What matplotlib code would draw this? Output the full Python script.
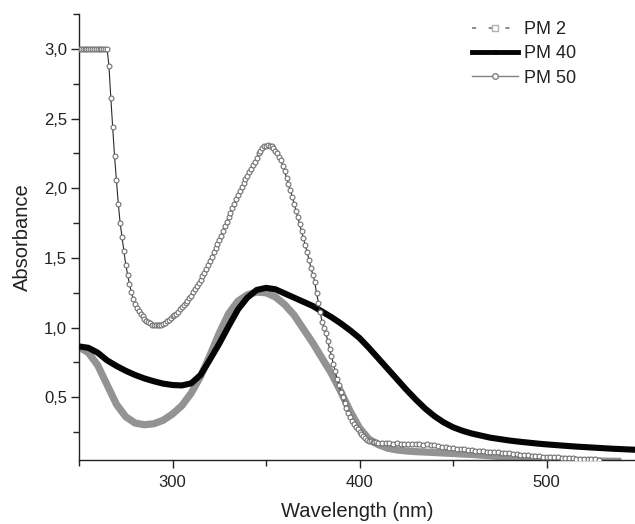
import numpy as np
import matplotlib
matplotlib.use("Agg")
import matplotlib.pyplot as plt
from matplotlib.lines import Line2D
from matplotlib.ticker import FuncFormatter, MultipleLocator

plt.rcParams['font.family'] = ['Liberation Sans', 'DejaVu Sans']

# ---------------- data ----------------
# PM 2 (grey band), every 5 nm
wl_pm2 = np.arange(250, 541, 5)
abs_pm2 = [0.86, 0.82, 0.73, 0.59, 0.45, 0.36, 0.315, 0.303, 0.31, 0.335,
           0.38, 0.44, 0.53, 0.65, 0.80, 0.96, 1.10, 1.19, 1.235, 1.255,
           1.25, 1.22, 1.165, 1.09, 0.99, 0.89, 0.78, 0.67, 0.54, 0.40,
           0.28, 0.20, 0.16, 0.135, 0.122, 0.115, 0.11, 0.107, 0.104, 0.10,
           0.097, 0.093, 0.09, 0.085, 0.08, 0.075, 0.07, 0.066, 0.062, 0.058,
           0.055, 0.052, 0.05, 0.047, 0.045, 0.043, 0.042, 0.041, 0.04]

# PM 40 (black), every 5 nm
wl_pm40 = np.arange(250, 551, 5)
abs_pm40 = [0.865, 0.855, 0.82, 0.765, 0.725, 0.69, 0.66, 0.635, 0.615, 0.598,
            0.588, 0.585, 0.60, 0.66, 0.77, 0.885, 1.01, 1.13, 1.215, 1.27,
            1.285, 1.275, 1.245, 1.215, 1.185, 1.155, 1.115, 1.075, 1.03, 0.98,
            0.925, 0.855, 0.78, 0.705, 0.63, 0.555, 0.485, 0.42, 0.365, 0.32,
            0.285, 0.26, 0.24, 0.225, 0.21, 0.20, 0.19, 0.182, 0.175, 0.168,
            0.162, 0.157, 0.152, 0.147, 0.143, 0.139, 0.135, 0.131, 0.128, 0.125,
            0.122]

# PM 50 (open circles): 1 nm steps 250-410, 2 nm steps 412-528
wl_pm50 = np.concatenate([np.arange(250, 411, 1), np.arange(412, 529, 2)])
abs_pm50 = [3.0] * 16 + [
    2.88, 2.65, 2.44, 2.23, 2.06, 1.89, 1.75, 1.65, 1.55, 1.45,
    1.38, 1.31, 1.255, 1.205, 1.17, 1.14, 1.12, 1.10, 1.08, 1.065,
    1.05, 1.04, 1.03, 1.022, 1.018,
    # 291-410
    1.017, 1.016, 1.018, 1.022, 1.028, 1.035, 1.045, 1.055, 1.067, 1.08,
    1.09, 1.10, 1.115, 1.13, 1.145, 1.16, 1.175, 1.19, 1.21, 1.23,
    1.255, 1.28, 1.30, 1.32, 1.345, 1.37, 1.395, 1.42, 1.45, 1.48,
    1.51, 1.54, 1.57, 1.60, 1.63, 1.66, 1.695, 1.73, 1.76, 1.79,
    1.825, 1.86, 1.89, 1.92, 1.95, 1.98, 2.01, 2.04, 2.065, 2.09,
    2.115, 2.14, 2.165, 2.19, 2.22, 2.25, 2.27, 2.29, 2.30, 2.305,
    2.308, 2.305, 2.30, 2.29, 2.27, 2.25, 2.225, 2.20, 2.16, 2.12,
    2.075, 2.03, 1.985, 1.94, 1.89, 1.84, 1.79, 1.74, 1.69, 1.64,
    1.59, 1.54, 1.485, 1.43, 1.38, 1.33, 1.25, 1.18, 1.11, 1.04,
    1.00, 0.96, 0.905, 0.85, 0.795, 0.74, 0.685, 0.63, 0.585, 0.54,
    0.50, 0.46, 0.425, 0.39, 0.36, 0.33, 0.31, 0.29, 0.27, 0.25,
    0.235, 0.22, 0.207, 0.195, 0.188, 0.183, 0.18, 0.177, 0.176, 0.175,
    # 412-528
    0.172, 0.170, 0.171, 0.168, 0.170, 0.166, 0.167, 0.164, 0.166, 0.163,
    0.165, 0.160, 0.162, 0.157, 0.155, 0.150, 0.146, 0.141, 0.138, 0.135,
    0.131, 0.128, 0.126, 0.122, 0.120, 0.118, 0.114, 0.112, 0.110, 0.108,
    0.106, 0.104, 0.101, 0.099, 0.097, 0.094, 0.092, 0.089, 0.087, 0.085,
    0.082, 0.080, 0.077, 0.075, 0.073, 0.071, 0.070, 0.068, 0.066, 0.065,
    0.063, 0.062, 0.060, 0.059, 0.058, 0.057, 0.056, 0.054, 0.053]

series_labels = ["PM 2", "PM 40", "PM 50"]
x_ticks = [300, 400, 500]
y_ticks = [0.5, 1.0, 1.5, 2.0, 2.5, 3.0]

# ---------------- figure ----------------
fig = plt.figure(figsize=(6.35, 5.24), dpi=100)
ax = fig.add_axes([79/635, 64/524, 556/635, 446/524])

ax.plot(wl_pm2, abs_pm2, color='#939393', lw=5.2, solid_capstyle='butt', zorder=2)
ax.plot(wl_pm40, abs_pm40, color='#050505', lw=4.4, solid_capstyle='butt', zorder=3)
ax.plot(wl_pm50, abs_pm50, color='#2a2a2a', lw=0.8, marker='o', ms=3.5,
        mfc='white', mec='#707070', mew=0.8, zorder=4)

ax.set_xlim(250, 547.3)
ax.set_ylim(0.05, 3.25)

ax.set_xticks(x_ticks)
ax.xaxis.set_minor_locator(MultipleLocator(50))
ax.set_yticks(y_ticks)
ax.yaxis.set_minor_locator(MultipleLocator(0.25))
ax.yaxis.set_major_formatter(FuncFormatter(lambda v, p: f"{v:.1f}".replace('.', ',')))

for s in ['top', 'right']:
    ax.spines[s].set_visible(False)
for s in ['left', 'bottom']:
    ax.spines[s].set_color('#222222')
    ax.spines[s].set_linewidth(1.0)

ax.tick_params(which='major', direction='out', length=5.5, width=1.0,
               colors='#222222', labelsize=12, labelcolor='#222222')
ax.tick_params(axis='y', which='major', pad=3)
ax.tick_params(axis='x', which='major', pad=5)
ax.tick_params(which='minor', direction='out', length=4, width=1.0, colors='#222222')

ax.set_xlabel("Wavelength (nm)", fontsize=14.5, color='#222222', labelpad=9)
ax.set_ylabel("Absorbance", fontsize=14.5, color='#222222', labelpad=9)

handles = [
    Line2D([], [], color='#909090', lw=1.5, ls=(0, (2, 6)), marker='s', ms=4,
           mfc='white', mec='#b0b0b0'),
    Line2D([], [], color='#050505', lw=3.5, marker='o', ms=2.5),
    Line2D([], [], color='#808080', lw=1.0, marker='o', ms=4, mfc='white', mec='#808080'),
]
leg = fig.legend(handles, series_labels, loc='upper left',
                 bbox_to_anchor=(465/635, 1 - 14/524), frameon=False,
                 fontsize=13, handlelength=2.55, handletextpad=0.3,
                 labelspacing=0.4, borderaxespad=0)
for t in leg.get_texts():
    t.set_color('#222222')

fig.savefig("out.png", dpi=100)
